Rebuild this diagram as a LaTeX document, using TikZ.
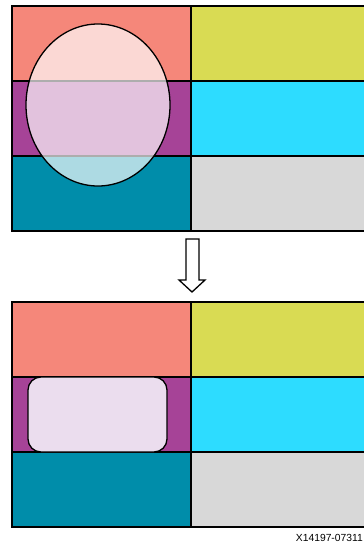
\documentclass[tikz,border=0pt]{standalone}
\usepackage{fontspec}
\setsansfont{Liberation Sans}
\definecolor{salmon}{HTML}{F5877A}
\definecolor{lime}{HTML}{D9DB53}
\definecolor{plum}{HTML}{A64397}
\definecolor{sky}{HTML}{2DDCFF}
\definecolor{sea}{HTML}{008DAA}
\definecolor{silver}{HTML}{D8D8D8}
\definecolor{lav}{HTML}{EBDDEE}
\begin{document}
\begin{tikzpicture}[x=1pt,y=-1pt,
    cell/.style={draw=black,line width=1.6pt,minimum height=75pt,anchor=north west,inner sep=0pt}]
    \useasboundingbox (0,0) rectangle (364,544);
    \clip (0,0) rectangle (364,544);
    % two grids, before and after
    \foreach \oy/\g in {5/a,301/b}{
        \foreach \r/\cl/\cr in {0/salmon/lime,1/plum/sky,2/sea/silver}{
            \node[cell,fill=\cl,minimum width=179pt] (\g l\r) at (11,{\oy+75*\r}) {};
            \node[cell,fill=\cr,minimum width=180pt] (\g r\r) at (190,{\oy+75*\r}) {};
        }
    }
    \draw[line width=1.3pt,fill=white,fill opacity=0.68] (98,105) ellipse [x radius=72,y radius=81];
    \draw[line width=1.3pt,fill=lav,rounded corners=13pt] (28,377) rectangle (167,452);
    % hollow arrow
    \draw[line width=1.3pt,fill=white] (186,239) -- (199,239) -- (199,280) -- (205,280)
        -- (192,292) -- (179,280) -- (186,280) -- cycle;
    \node[anchor=base east,inner sep=0pt,font=\sffamily\fontsize{10.3}{12}\selectfont] (fig) at (363,541) {X14197-07311};
\end{tikzpicture}
\end{document}
